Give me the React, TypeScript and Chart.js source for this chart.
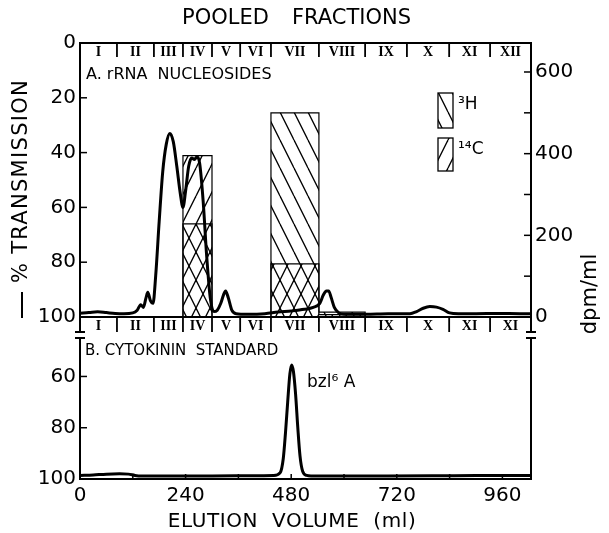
import React, { useEffect, useRef } from "react";
import { Chart, registerables } from "chart.js";
Chart.register(...registerables);

// ---------- data ----------
const fractionLabelsTop = ["I", "II", "III", "IV", "V", "VI", "VII", "VIII", "IX", "X", "XI", "XII"];
const fractionLabelsBottom = ["I", "II", "III", "IV", "V", "VI", "VII", "VIII", "IX", "X", "XI", "XI"];
const fractionBounds = [0, 84, 168, 234, 300, 364, 434, 543, 648, 743, 839, 932, 1025];
const tritiumDpm = [0, 0, 0, 228, 0, 0, 500, 12, 0, 0, 0, 0];
const carbonDpm = [0, 0, 0, 395, 0, 0, 130, 6, 0, 0, 0, 0];

const topVolume = [0, 20, 40, 60, 80, 100, 120, 130, 138, 144, 150, 154, 160, 166, 172, 180, 188, 196, 204, 212, 220, 228, 234, 240, 247, 254, 260, 266, 272, 280, 288, 296, 304, 312, 320, 326, 331, 337, 345, 355, 380, 420, 450, 480, 510, 530, 545, 553, 560, 565, 571, 578, 588, 600, 650, 700, 750, 765, 780, 795, 810, 825, 840, 860, 900, 950, 1000, 1025];
const topTransmission = [98.6, 98.4, 98.1, 98.4, 98.7, 98.8, 98.5, 97.5, 95.5, 96.5, 93, 91, 94, 95, 85, 65, 47, 37, 33, 36, 45, 55, 60, 54, 45, 42, 42.5, 41.5, 44, 58, 78, 93, 98, 97.5, 95, 92, 90.5, 93, 97.5, 98.8, 99, 98.8, 98.2, 97.8, 97.2, 96.5, 95, 92, 90.5, 90.5, 93, 96.5, 98.5, 99, 99, 98.8, 98.8, 98, 96.8, 96.2, 96.4, 97.2, 98.5, 98.8, 98.8, 98.7, 98.8, 98.8];

const stdVolume = [0, 30, 60, 90, 110, 125, 140, 200, 300, 400, 440, 455, 462, 467, 472, 477, 481, 485, 490, 495, 500, 506, 515, 525, 560, 700, 850, 1000, 1025];
const stdTransmission = [98.6, 98.4, 98.1, 98, 98.1, 98.6, 98.8, 98.8, 98.8, 98.7, 98.6, 97.5, 92, 82, 70, 59, 55.5, 58, 67, 80, 91, 97, 98.6, 98.8, 98.8, 98.8, 98.7, 98.6, 98.6];

const leftTicksTop = [0, 20, 40, 60, 80, 100];
const rightTicks = [0, 100, 200, 300, 400, 500, 600];
const leftTicksBottom = [60, 80, 100];
const xTicks = [0, 240, 480, 720, 960];
const xMinorTicks = [120, 240, 360, 480, 600, 720, 840, 960];

const FONT = '"DejaVu Sans", sans-serif';

function stepData(vals: number[]) {
  const d = vals.map((v, i) => ({ x: fractionBounds[i], y: v }));
  d.push({ x: fractionBounds[fractionBounds.length - 1], y: 0 });
  return d;
}

function makePattern(dir: number) {
  const c = document.createElement("canvas");
  c.width = 14;
  c.height = 28;
  const g = c.getContext("2d")!;
  g.strokeStyle = "#000";
  g.lineWidth = 1.3;
  for (const off of [-14, 0, 14]) {
    g.beginPath();
    if (dir > 0) {
      g.moveTo(off, 0);
      g.lineTo(off + 14, 28);
    } else {
      g.moveTo(off, 28);
      g.lineTo(off + 14, 0);
    }
    g.stroke();
  }
  return g.createPattern(c, "repeat")!;
}

function seg(ctx: CanvasRenderingContext2D, x1: number, y1: number, x2: number, y2: number) {
  ctx.beginPath();
  ctx.moveTo(x1, y1);
  ctx.lineTo(x2, y2);
  ctx.stroke();
}

export default function App() {
  const topRef = useRef<HTMLCanvasElement>(null);
  const botRef = useRef<HTMLCanvasElement>(null);

  useEffect(() => {
    document.body.style.margin = "0";
    const hatchBack = makePattern(1); // "\" 3H
    const hatchFwd = makePattern(-1); // "/" 14C

    const topDecor = {
      id: "topDecor",
      afterDraw(chart: any) {
        const { ctx, chartArea: a, scales } = chart;
        const x = scales.x, y = scales.y, y2 = scales.y2;
        ctx.save();
        ctx.strokeStyle = "#000";
        ctx.fillStyle = "#000";
        ctx.lineWidth = 2;
        ctx.strokeRect(a.left, a.top, a.right - a.left, a.bottom - a.top);
        ctx.lineWidth = 1.5;
        leftTicksTop.forEach((v) => {
          const py = y.getPixelForValue(v);
          seg(ctx, a.left, py, a.left + 7, py);
        });
        rightTicks.forEach((v) => {
          const py = y2.getPixelForValue(v);
          seg(ctx, a.right - 7, py, a.right, py);
        });
        ctx.lineWidth = 1.8;
        for (let i = 1; i < fractionBounds.length - 1; i++) {
          const px = x.getPixelForValue(fractionBounds[i]);
          seg(ctx, px, a.top, px, a.top + 14);
          seg(ctx, px, a.bottom, px, a.bottom + 15);
        }
        // axis break marks
        ctx.lineWidth = 2;
        [a.left, a.right].forEach((px: number) => {
          seg(ctx, px, a.bottom, px, a.bottom + 15);
          seg(ctx, px - 5, a.bottom + 15, px + 5, a.bottom + 15);
        });
        ctx.font = 'bold 14px "Liberation Serif", serif';
        ctx.textAlign = "center";
        ctx.textBaseline = "middle";
        for (let i = 0; i < fractionLabelsTop.length; i++) {
          const cx = (x.getPixelForValue(fractionBounds[i]) + x.getPixelForValue(fractionBounds[i + 1])) / 2;
          ctx.fillText(fractionLabelsTop[i], cx, a.top + 9);
          ctx.fillText(fractionLabelsBottom[i], cx, a.bottom + 9);
        }
        // title
        ctx.font = `21px ${FONT}`;
        ctx.textAlign = "left";
        ctx.fillText("POOLED", 182, 19);
        ctx.fillText("FRACTIONS", 292, 19);
        // panel label
        ctx.font = `16px ${FONT}`;
        ctx.fillText("A. rRNA  NUCLEOSIDES", 86, 75);
        // legend
        ctx.lineWidth = 1.3;
        ctx.fillStyle = hatchBack;
        ctx.fillRect(438, 93, 15, 35);
        ctx.strokeRect(438, 93, 15, 35);
        ctx.fillStyle = hatchFwd;
        ctx.fillRect(438, 138, 15, 33);
        ctx.strokeRect(438, 138, 15, 33);
        ctx.fillStyle = "#000";
        ctx.font = `17px ${FONT}`;
        ctx.fillText("\u00B3H", 458, 105);
        ctx.fillText("\u00B9\u2074C", 458, 150);
        // axis titles
        ctx.font = `21px ${FONT}`;
        (ctx as any).letterSpacing = "1.3px";
        ctx.save();
        ctx.translate(22, 181);
        ctx.rotate(-Math.PI / 2);
        ctx.textAlign = "center";
        ctx.fillText("% TRANSMISSION", 0, 0);
        ctx.restore();
        (ctx as any).letterSpacing = "0px";
        ctx.save();
        ctx.translate(591, 294);
        ctx.rotate(-Math.PI / 2);
        ctx.textAlign = "center";
        ctx.fillText("dpm/ml", 0, 0);
        ctx.restore();
        // stray mark
        ctx.lineWidth = 2;
        seg(ctx, 22, 292, 22, 318);
        ctx.restore();
      },
    };

    const botDecor = {
      id: "botDecor",
      afterDraw(chart: any) {
        const { ctx, chartArea: a, scales } = chart;
        const x = scales.x, y = scales.y;
        ctx.save();
        ctx.strokeStyle = "#000";
        ctx.fillStyle = "#000";
        ctx.lineWidth = 2;
        seg(ctx, a.left, a.top, a.left, a.bottom);
        seg(ctx, a.right, a.top, a.right, a.bottom);
        seg(ctx, a.left - 1, a.bottom, a.right + 1, a.bottom);
        seg(ctx, a.left - 5, a.top, a.left + 5, a.top);
        seg(ctx, a.right - 5, a.top, a.right + 5, a.top);
        ctx.lineWidth = 1.5;
        leftTicksBottom.forEach((v) => {
          const py = y.getPixelForValue(v);
          seg(ctx, a.left, py, a.left + 7, py);
        });
        xMinorTicks.forEach((v) => {
          const px = x.getPixelForValue(v);
          seg(ctx, px, a.bottom, px, a.bottom - 5);
        });
        ctx.textBaseline = "middle";
        ctx.textAlign = "left";
        ctx.font = `15px ${FONT}`;
        ctx.fillText("B. CYTOKININ  STANDARD", 85, 351);
        ctx.font = `17px ${FONT}`;
        ctx.fillText("bzl\u2076 A", 307, 383);
        ctx.font = `20px ${FONT}`;
        ctx.textAlign = "center";
        (ctx as any).letterSpacing = "0.6px";
        ctx.fillText("ELUTION  VOLUME  (ml)", 292, 522);
        ctx.restore();
      },
    };

    const topChart = new Chart(topRef.current!, {
      type: "line",
      data: {
        datasets: [
          {
            data: topVolume.map((v, i) => ({ x: v, y: topTransmission[i] })),
            yAxisID: "y",
            borderColor: "#000",
            borderWidth: 3,
            pointRadius: 0,
            cubicInterpolationMode: "monotone",
            fill: false,
            order: 0,
          },
          {
            data: stepData(tritiumDpm),
            yAxisID: "y2",
            stepped: true,
            borderColor: "#000",
            borderWidth: 1.2,
            pointRadius: 0,
            backgroundColor: hatchBack as any,
            fill: "origin",
            order: 1,
          },
          {
            data: stepData(carbonDpm),
            yAxisID: "y2",
            stepped: true,
            borderColor: "#000",
            borderWidth: 1.2,
            pointRadius: 0,
            backgroundColor: hatchFwd as any,
            fill: "origin",
            order: 2,
          },
        ],
      },
      options: {
        animation: false,
        responsive: false,
        devicePixelRatio: 1,
        layout: { padding: { top: 43, bottom: 216, left: 0, right: 0 } },
        plugins: { legend: { display: false }, tooltip: { enabled: false } },
        scales: {
          x: { type: "linear", min: 0, max: 1025, display: false },
          y: {
            position: "left",
            reverse: true,
            min: 0,
            max: 100,
            grid: { display: false, drawTicks: false },
            border: { display: false },
            ticks: { color: "#000", font: { family: FONT, size: 20 }, padding: 4 },
            afterBuildTicks: (s: any) => {
              s.ticks = leftTicksTop.map((v) => ({ value: v }));
            },
            afterFit: (s: any) => {
              s.width = 80;
            },
          },
          y2: {
            position: "right",
            min: 0,
            max: 671,
            grid: { display: false, drawTicks: false },
            border: { display: false },
            ticks: {
              color: "#000",
              font: { family: FONT, size: 20 },
              padding: 4,
              callback: (v: any) => (Number(v) % 200 === 0 ? String(v) : ""),
            },
            afterBuildTicks: (s: any) => {
              s.ticks = rightTicks.map((v) => ({ value: v }));
            },
            afterFit: (s: any) => {
              s.width = 78;
            },
          },
        },
      } as any,
      plugins: [topDecor],
    });

    const botChart = new Chart(botRef.current!, {
      type: "line",
      data: {
        datasets: [
          {
            data: stdVolume.map((v, i) => ({ x: v, y: stdTransmission[i] })),
            borderColor: "#000",
            borderWidth: 3,
            pointRadius: 0,
            cubicInterpolationMode: "monotone",
            fill: false,
          },
        ],
      },
      options: {
        animation: false,
        responsive: false,
        devicePixelRatio: 1,
        layout: { padding: { top: 338, bottom: 24, left: 0, right: 78 } },
        plugins: { legend: { display: false }, tooltip: { enabled: false } },
        scales: {
          x: {
            type: "linear",
            min: 0,
            max: 1025,
            grid: { display: false, drawTicks: false },
            border: { display: false },
            ticks: { color: "#000", font: { family: FONT, size: 20 }, padding: 5, maxRotation: 0 },
            afterBuildTicks: (s: any) => {
              s.ticks = xTicks.map((v) => ({ value: v }));
            },
            afterFit: (s: any) => {
              s.height = 30;
            },
          },
          y: {
            position: "left",
            reverse: true,
            min: 45,
            max: 100,
            grid: { display: false, drawTicks: false },
            border: { display: false },
            ticks: { color: "#000", font: { family: FONT, size: 20 }, padding: 4 },
            afterBuildTicks: (s: any) => {
              s.ticks = leftTicksBottom.map((v) => ({ value: v }));
            },
            afterFit: (s: any) => {
              s.width = 80;
            },
          },
        },
      } as any,
      plugins: [botDecor],
    });

    return () => {
      topChart.destroy();
      botChart.destroy();
    };
  }, []);

  return (
    <div style={{ position: "relative", width: 609, height: 533, background: "#fff" }}>
      <canvas ref={topRef} width={609} height={533} style={{ position: "absolute", left: 0, top: 0 }} />
      <canvas ref={botRef} width={609} height={533} style={{ position: "absolute", left: 0, top: 0 }} />
    </div>
  );
}
